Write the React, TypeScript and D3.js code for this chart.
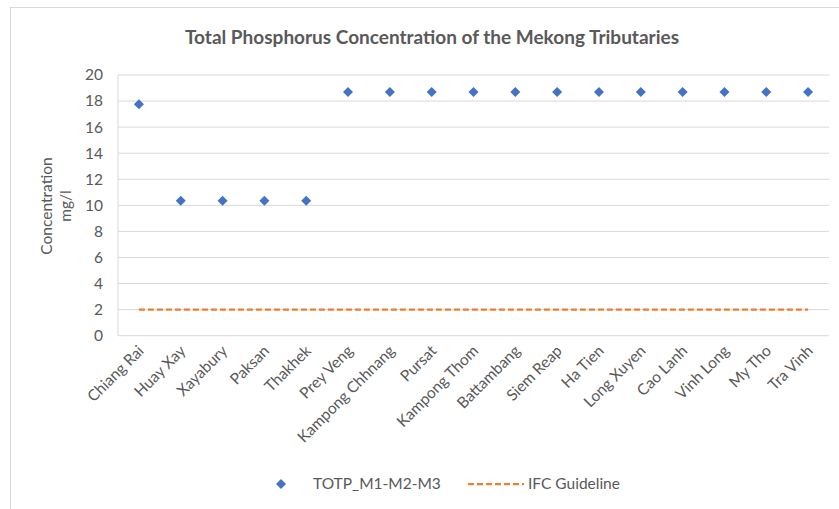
import React from "react";
import * as d3 from "d3";

const categories = ["Chiang Rai", "Huay Xay", "Xayabury", "Paksan", "Thakhek", "Prey Veng", "Kampong Chhnang", "Pursat", "Kampong Thom", "Battambang", "Siem Reap", "Ha Tien", "Long Xuyen", "Cao Lanh", "Vinh Long", "My Tho", "Tra Vinh"];
const totpValues = [17.75, 10.35, 10.35, 10.35, 10.35, 18.7, 18.7, 18.7, 18.7, 18.7, 18.7, 18.7, 18.7, 18.7, 18.7, 18.7, 18.7];
const ifcValues = [2, 2, 2, 2, 2, 2, 2, 2, 2, 2, 2, 2, 2, 2, 2, 2, 2];
const yTicks = [0, 2, 4, 6, 8, 10, 12, 14, 16, 18, 20];

const W = 839, H = 509;
const plot = { left: 118, right: 829, top: 75, bottom: 335.7 };
const FONT = "Lato, 'Open Sans', sans-serif";
const TXT = "#595959";
const FS = 15.5;

export default function App() {
  const x = d3.scaleBand<string>().domain(categories).range([plot.left, plot.right]).padding(0);
  const y = d3.scaleLinear().domain([0, 20]).range([plot.bottom, plot.top]);
  const cx = (c: string) => (x(c) as number) + x.bandwidth() / 2;
  const r = 5;
  const diamond = `M0,${-r}L${r},0L0,${r}L${-r},0Z`;
  const line = d3.line<number>().x((_, i) => cx(categories[i])).y((d) => y(d));

  return (
    <svg width={W} height={H} style={{ position: "absolute", left: 0, top: 0 }}>
      <rect x={0} y={0} width={W} height={H} fill="#fff" />
      <rect x={10.5} y={7.5} width={W + 20} height={H + 20} fill="#fff" stroke="#d9d9d9" strokeWidth={1} />
      <text x={432} y={44} textAnchor="middle" fontFamily={FONT} fontWeight="bold" fontSize={19} fill={TXT}>
        Total Phosphorus Concentration of the Mekong Tributaries
      </text>
      {yTicks.map((t) => (
        <g key={t}>
          <line x1={plot.left} x2={plot.right} y1={y(t)} y2={y(t)} stroke="#d9d9d9" strokeWidth={1} />
          <text x={103} y={y(t)} dy="0.35em" textAnchor="end" fontFamily={FONT} fontSize={FS} fill={TXT}>{t}</text>
        </g>
      ))}
      <line x1={plot.left} x2={plot.left} y1={plot.top} y2={plot.bottom} stroke="#d9d9d9" strokeWidth={1} />
      <g transform={`translate(57, 206) rotate(-90)`}>
        <text x={0} y={-5} textAnchor="middle" fontFamily={FONT} fontSize={FS} fill={TXT}>Concentration</text>
        <text x={0} y={14} textAnchor="middle" fontFamily={FONT} fontSize={FS} fill={TXT}>mg/l</text>
      </g>
      {categories.map((c) => (
        <text key={c} transform={`translate(${cx(c) + 2}, 348) rotate(-45)`} textAnchor="end" dy="0.35em" fontFamily={FONT} fontSize={FS} fill={TXT}>{c}</text>
      ))}
      <path d={line(ifcValues) as string} fill="none" stroke="#ED7D31" strokeWidth={2.25} strokeDasharray="6,3" />
      {totpValues.map((v, i) => (
        <path key={i} d={diamond} transform={`translate(${cx(categories[i])}, ${y(v)})`} fill="#4472C4" />
      ))}
      <path d={diamond} transform="translate(281, 484)" fill="#4472C4" />
      <text x={313} y={484} dy="0.35em" fontFamily={FONT} fontSize={FS} fill={TXT}>TOTP_M1-M2-M3</text>
      <line x1={468} x2={524} y1={484} y2={484} stroke="#ED7D31" strokeWidth={2.25} strokeDasharray="6,3" />
      <text x={528} y={484} dy="0.35em" fontFamily={FONT} fontSize={FS} fill={TXT}>IFC Guideline</text>
    </svg>
  );
}
